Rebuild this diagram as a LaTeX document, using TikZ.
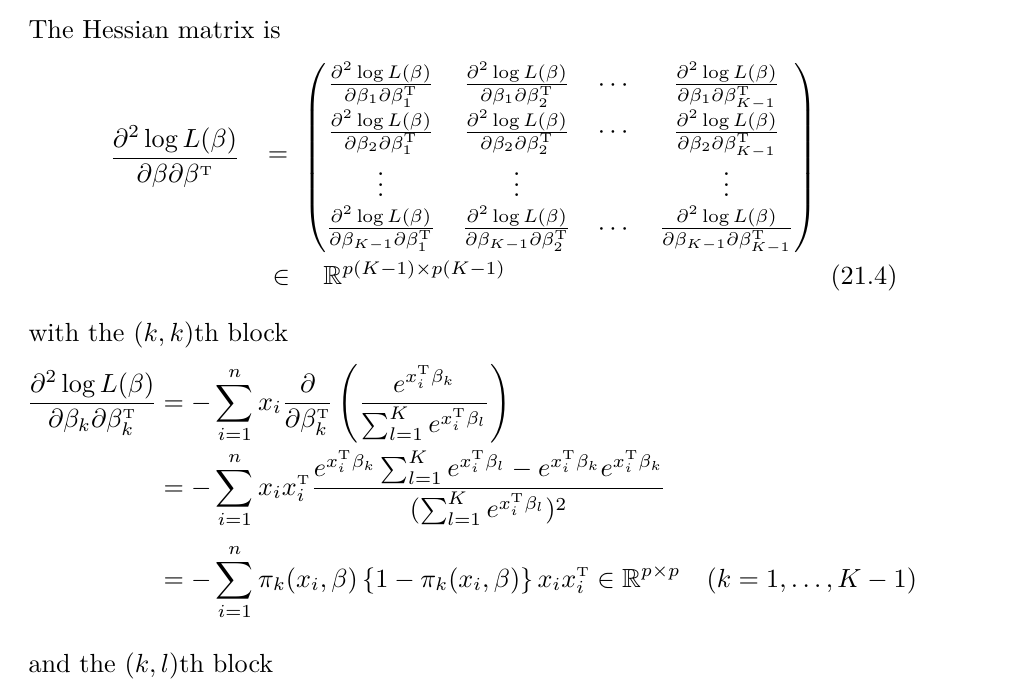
\documentclass[tikz,border=0pt]{standalone}
\usepackage{amsmath,amssymb}
\newcommand{\Tr}{{\scriptscriptstyle\mathrm{T}}}
\newcommand{\LL}{\partial^2\log L(\beta)}
\begin{document}
\begin{tikzpicture}[x=0.3817pt,y=-0.3817pt,txt/.style={inner sep=0pt,anchor=base west}]
\useasboundingbox (0,0) rectangle (1027,697);
\node[txt] (t1) at (28,38) {The Hessian matrix is};
\node[inner sep=0pt,anchor=center] (lhs) at (175,157) {$\displaystyle\frac{\LL}{\partial\beta\partial\beta^\Tr}$};
\node[inner sep=0pt] (eq) at (278,157) {$=$};
\node[inner sep=0pt,anchor=center] (mat) at (560,158) {$\displaystyle\left(\begin{matrix}
\frac{\LL}{\partial\beta_1\partial\beta_1^\Tr} & \frac{\LL}{\partial\beta_1\partial\beta_2^\Tr} & \cdots & \frac{\LL}{\partial\beta_1\partial\beta_{K-1}^\Tr}\\
\frac{\LL}{\partial\beta_2\partial\beta_1^\Tr} & \frac{\LL}{\partial\beta_2\partial\beta_2^\Tr} & \cdots & \frac{\LL}{\partial\beta_2\partial\beta_{K-1}^\Tr}\\
\vdots & \vdots & & \vdots\\
\frac{\LL}{\partial\beta_{K-1}\partial\beta_1^\Tr} & \frac{\LL}{\partial\beta_{K-1}\partial\beta_2^\Tr} & \cdots & \frac{\LL}{\partial\beta_{K-1}\partial\beta_{K-1}^\Tr}
\end{matrix}\right)$};
\node[txt] (in) at (272,284) {$\in\quad\mathbb{R}^{p(K-1)\times p(K-1)}$};
\node[inner sep=0pt,anchor=base east] (num) at (898,284) {(21.4)};
\node[txt] (t2) at (28,341) {with the $(k,k)$th block};
\node[inner sep=0pt,anchor=base east] (l1) at (158,410) {$\displaystyle\frac{\LL}{\partial\beta_k\partial\beta_k^\Tr}$};
\node[txt] (r1) at (163,410) {$\displaystyle= -\sum_{i=1}^n x_i\frac{\partial}{\partial\beta_k^\Tr}\left(\frac{e^{x_i^\Tr\beta_k}}{\sum_{l=1}^K e^{x_i^\Tr\beta_l}}\right)$};
\node[txt] (r2) at (163,495) {$\displaystyle= -\sum_{i=1}^n x_ix_i^\Tr\frac{e^{x_i^\Tr\beta_k}\sum_{l=1}^K e^{x_i^\Tr\beta_l}-e^{x_i^\Tr\beta_k}e^{x_i^\Tr\beta_k}}{(\sum_{l=1}^K e^{x_i^\Tr\beta_l})^2}$};
\node[txt] (r3) at (163,587) {$\displaystyle= -\sum_{i=1}^n \pi_k(x_i,\beta)\,\{1-\pi_k(x_i,\beta)\}\,x_ix_i^\Tr\in\mathbb{R}^{p\times p}\quad(k=1,\ldots,K-1)$};
\node[txt] (t3) at (28,672) {and the $(k,l)$th block};
\end{tikzpicture}
\end{document}
